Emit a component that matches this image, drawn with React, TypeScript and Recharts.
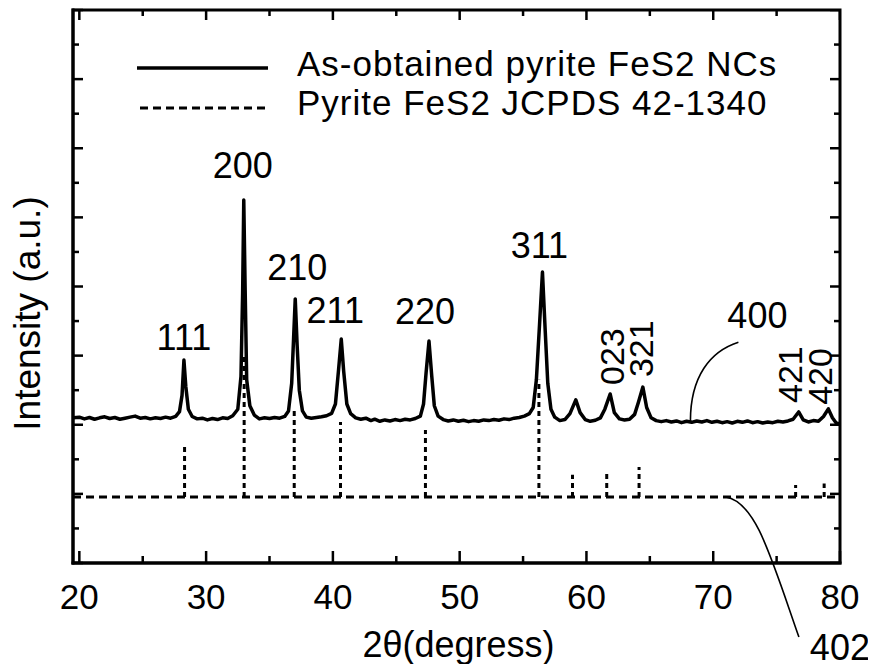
import React from 'react';
import {
  ComposedChart,
  Line,
  Scatter,
  XAxis,
  YAxis,
  ReferenceLine,
  ReferenceDot,
  ReferenceArea,
  Legend,
  Label,
} from 'recharts';

const FONT = '"Liberation Sans", Arial, Helvetica, sans-serif';

// Measured XRD pattern of the as-obtained nanocrystals (2θ in degrees, intensity in a.u.)
const measuredAngle = [
  19.5, 20.0, 20.4, 20.8, 21.2, 21.6, 22.0, 22.4, 22.8, 23.2, 23.6, 24.0, 24.4, 24.8, 25.2, 25.6,
  26.0, 26.4, 26.8, 27.2, 27.6, 27.9, 28.1, 28.25, 28.4, 28.6, 28.9, 29.3, 29.7, 30.1, 30.5, 30.9,
  31.3, 31.7, 32.1, 32.5, 32.75, 32.88, 32.97, 33.08, 33.2, 33.45, 33.8, 34.2, 34.6, 35.0, 35.4,
  35.8, 36.2, 36.5, 36.75, 36.9, 37.03, 37.18, 37.35, 37.6, 37.9, 38.3, 38.7, 39.1, 39.5, 39.9,
  40.2, 40.45, 40.66, 40.85, 41.1, 41.4, 41.8, 42.2, 42.6, 43.0, 43.3, 43.7, 44.1, 44.5, 44.9,
  45.3, 45.7, 46.1, 46.5, 46.9, 47.15, 47.35, 47.58, 47.8, 48.0, 48.3, 48.7, 49.1, 49.5, 49.9,
  50.3, 50.7, 51.1, 51.5, 51.9, 52.3, 52.7, 53.1, 53.5, 53.9, 54.3, 54.7, 55.1, 55.5, 55.8, 56.05,
  56.3, 56.53, 56.75, 56.95, 57.2, 57.5, 57.9, 58.3, 58.7, 59.16, 59.5, 59.9, 60.3, 60.7, 61.1,
  61.45, 61.87, 62.2, 62.6, 63.0, 63.4, 63.8, 64.1, 64.45, 64.75, 65.1, 65.5, 65.9, 66.3, 66.7,
  67.1, 67.5, 67.9, 68.3, 68.7, 69.1, 69.5, 69.9, 70.3, 70.7, 71.1, 71.5, 71.9, 72.3, 72.7, 73.1,
  73.5, 73.9, 74.3, 74.7, 75.1, 75.5, 75.9, 76.3, 76.74, 77.1, 77.5, 77.9, 78.3, 78.7, 79.08,
  79.4, 79.7, 80.0,
];
const measuredIntensity = [
  4.2, 4.22, 4.17, 4.21, 4.16, 4.2, 4.23, 4.18, 4.21, 4.16, 4.19, 4.22, 4.25, 4.19, 4.21, 4.17,
  4.2, 4.18, 4.22, 4.19, 4.24, 4.38, 4.85, 5.87, 5.1, 4.45, 4.24, 4.17, 4.19, 4.14, 4.18, 4.15,
  4.2, 4.18, 4.26, 4.45, 5.4, 7.8, 10.5, 7.9, 5.3, 4.55, 4.28, 4.17, 4.2, 4.18, 4.21,
  4.19, 4.24, 4.4, 5.2, 6.5, 7.64, 6.3, 5.0, 4.4, 4.22, 4.19, 4.21, 4.23, 4.26, 4.33,
  4.6, 5.6, 6.48, 5.55, 4.6, 4.32, 4.2, 4.16, 4.19, 4.12, 4.16, 4.1, 4.14, 4.11, 4.15,
  4.12, 4.16, 4.14, 4.18, 4.25, 4.6, 5.5, 6.42, 5.4, 4.55, 4.25, 4.15, 4.11, 4.14, 4.1,
  4.13, 4.09, 4.12, 4.1, 4.14, 4.12, 4.15, 4.13, 4.17, 4.15, 4.19, 4.21, 4.25, 4.32, 4.5, 5.3,
  6.9, 8.42, 6.7, 5.2, 4.45, 4.22, 4.12, 4.15, 4.32, 4.72, 4.35, 4.15, 4.1, 4.13, 4.2,
  4.45, 4.89, 4.35, 4.17, 4.14, 4.16, 4.3, 4.65, 5.09, 4.5, 4.2, 4.12, 4.09, 4.12, 4.08,
  4.11, 4.06, 4.1, 4.07, 4.11, 4.08, 4.12, 4.07, 4.1, 4.06, 4.09, 4.05, 4.1, 4.07, 4.11, 4.06,
  4.09, 4.05, 4.08, 4.06, 4.1, 4.08, 4.11, 4.16, 4.37, 4.14, 4.08, 4.12, 4.1, 4.24, 4.46,
  4.2, 4.05, 4.02,
];

// Standard pyrite FeS2 stick pattern (JCPDS 42-1340), drawn offset below the measurement
const patternBase = 1.91;
const patternSpan = [19.5, 80];
const patternAngle = [28.3, 33.0, 36.95, 40.6, 47.3, 56.25, 58.9, 61.6, 64.15, 76.5, 78.75];
const patternTop = [3.41, 5.96, 4.51, 4.08, 3.85, 5.3, 2.55, 2.6, 2.78, 2.26, 2.3];

// Miller indices of the indexed reflections
const peakHkl = ['111', '200', '210', '211', '220', '311', '023', '321', '421', '420'];
const peakAngle = [28.25, 32.97, 37.03, 40.66, 47.58, 56.53, 61.87, 64.45, 76.74, 79.08];
const peakIntensity = [5.87, 10.5, 7.64, 6.48, 6.42, 8.42, 4.89, 5.09, 4.37, 4.46];
const peakUpright = [true, true, true, true, true, true, false, false, false, false];
// label placement relative to its peak apex: [dx, lift]
const peakLabelPlacement = [
  [0, 10], [-1, 22], [2, 19], [-6, 16], [-4, 17], [-3, 14], [2, 9], [-2, 10], [-9, 9], [-9, 4],
];

// callouts
const callout400 = { angle: 68.2, intensity: 4.1, text: '400' };
const callout402 = { angle: 71.0, intensity: patternBase, text: '402' };

const xTicks = [20, 25, 30, 35, 40, 45, 50, 55, 60, 65, 70, 75, 80];
const yTicks = [0, 1, 2, 3, 4, 5, 6, 7, 8, 9, 10, 11, 12, 13, 14, 15, 16];
const xDomain = [19.5, 80];
const yDomain = [0, 16];

const seriesNames = ['As-obtained pyrite FeS2 NCs', 'Pyrite FeS2 JCPDS 42-1340'];
const xTitle = '2θ(degress)';
const yTitle = 'Intensity (a.u.)';

const measuredRows = measuredAngle.map((a, i) => ({ angle: a, measured: measuredIntensity[i] }));
const patternRows = patternSpan.map((a) => ({ angle: a, pattern: patternBase }));
const peakRows = peakHkl.map((h, i) => ({
  angle: peakAngle[i],
  apex: peakIntensity[i],
  hkl: h,
  upright: peakUpright[i],
  place: peakLabelPlacement[i],
}));

// inward tick marks along the top and right edges of the box
const topTickRows = xTicks.map((t) => ({ angle: t, edge: yDomain[1], side: 'top', major: t % 10 === 0 }));
const rightTickRows = yTicks.map((t) => ({ angle: xDomain[1], edge: t, side: 'right', major: t % 2 === 0 }));

const CHART_W = 868;
const CHART_H = 656;
const MARGIN = { top: 2, right: 36, bottom: 61, left: 25 };

const INK = '#000';
const FRAME = { stroke: INK, strokeWidth: 3, strokeLinecap: 'square' as const };
const LABEL_SIZE = 36;
const TITLE_SIZE = 37;

const BottomTick = (props: any) => {
  const { x, y, payload } = props;
  const major = payload.value % 10 === 0;
  return (
    <g>
      <line x1={x} x2={x} y1={y} y2={y - (major ? 12 : 7)} stroke={INK} strokeWidth={2.5} />
      {major && (
        <text x={x} y={y + 46} textAnchor="middle" fontSize={35} fontFamily={FONT} fill={INK}>
          {payload.value}
        </text>
      )}
    </g>
  );
};

const LeftTick = (props: any) => {
  const { x, y, payload } = props;
  const major = payload.value % 2 === 0;
  return <line x1={x} x2={x + (major ? 10 : 6)} y1={y} y2={y} stroke={INK} strokeWidth={2.5} />;
};

const EdgeTick = (props: any) => {
  const { cx, cy, payload } = props;
  if (cx == null || cy == null) return null;
  const len = payload.major ? 10 : 6;
  if (payload.side === 'top') {
    return <line x1={cx} x2={cx} y1={cy} y2={cy + len} stroke={INK} strokeWidth={2.5} />;
  }
  return <line x1={cx} x2={cx - len} y1={cy} y2={cy} stroke={INK} strokeWidth={2.5} />;
};

const XTitle = (props: any) => {
  const { viewBox } = props;
  return (
    <text
      x={viewBox.x + viewBox.width / 2 + 2}
      y={viewBox.y + 94}
      textAnchor="middle"
      fontSize={TITLE_SIZE - 1}
      fontFamily={FONT}
      fill={INK}
    >
      {xTitle}
    </text>
  );
};

const YTitle = (props: any) => {
  const { viewBox } = props;
  const cx = viewBox.x - 6;
  const cy = viewBox.y + viewBox.height / 2 + 27;
  return (
    <text
      x={cx}
      y={cy}
      dy="0.35em"
      transform={`rotate(-90, ${cx}, ${cy})`}
      textAnchor="middle"
      fontSize={TITLE_SIZE}
      fontFamily={FONT}
      fill={INK}
    >
      {yTitle}
    </text>
  );
};

const PeakLabel = (props: any) => {
  const { cx, cy, payload } = props;
  if (cx == null || cy == null) return null;
  const [dx, lift] = payload.place;
  const x = cx + dx;
  const y = cy - lift;
  if (payload.upright) {
    return (
      <text x={x} y={y} textAnchor="middle" fontSize={LABEL_SIZE} fontFamily={FONT} fill={INK}>
        {payload.hkl}
      </text>
    );
  }
  return (
    <text
      x={x}
      y={y}
      dy="0.36em"
      transform={`rotate(-90, ${x}, ${y})`}
      textAnchor="start"
      fontSize={LABEL_SIZE - 2}
      fontFamily={FONT}
      fill={INK}
    >
      {payload.hkl}
    </text>
  );
};

const Callout400 = (props: any) => {
  const { cx, cy } = props;
  return (
    <g>
      <path
        d={`M${cx},${cy} C${cx},${cy - 45} ${cx + 20},${cy - 70} ${cx + 48},${cy - 79}`}
        fill="none"
        stroke={INK}
        strokeWidth={1.6}
      />
      <text x={cx + 67} y={cy - 93} textAnchor="middle" fontSize={LABEL_SIZE} fontFamily={FONT} fill={INK}>
        {callout400.text}
      </text>
    </g>
  );
};

const Callout402 = (props: any) => {
  const { cx, cy } = props;
  return (
    <g>
      <path
        d={`M${cx},${cy} C${cx + 30},${cy + 5} ${cx + 45},${cy + 60} ${cx + 73},${cy + 140}`}
        fill="none"
        stroke={INK}
        strokeWidth={1.6}
      />
      <text x={cx + 114} y={cy + 163} textAnchor="middle" fontSize={LABEL_SIZE} fontFamily={FONT} fill={INK}>
        {callout402.text}
      </text>
    </g>
  );
};

const LegendBox = (props: any) => {
  const items = (props.payload || []).filter(
    (p: any) => p.type !== 'none' && seriesNames.includes(p.value)
  );
  return (
    <svg width={720} height={90} style={{ display: 'block', overflow: 'visible' }}>
      {items.map((item: any, i: number) => {
        const y = 20 + i * 40;
        const dash = item.payload?.strokeDasharray;
        return (
          <g key={item.value}>
            <line
              x1={dash ? 3 : 0}
              x2={131}
              y1={y}
              y2={y}
              stroke={INK}
              strokeWidth={dash ? 3 : 3.5}
              strokeDasharray={dash}
            />
            <text
              x={160}
              y={i === 0 ? y + 8 : y + 7}
              fontSize={35}
              letterSpacing={1}
              fontFamily={FONT}
              fill={INK}
            >
              {item.value}
            </text>
          </g>
        );
      })}
    </svg>
  );
};

export default function App() {
  return (
    <div style={{ width: CHART_W, height: CHART_H, fontFamily: FONT }}>
      <ComposedChart width={CHART_W} height={CHART_H} margin={MARGIN}>
        <XAxis
          xAxisId="x"
          type="number"
          dataKey="angle"
          domain={xDomain}
          ticks={xTicks}
          interval={0}
          allowDataOverflow
          tickLine={false}
          tickSize={0}
          tickMargin={0}
          tick={<BottomTick />}
          axisLine={FRAME}
          height={40}
        >
          <Label content={<XTitle />} />
        </XAxis>
        <YAxis
          yAxisId="y"
          type="number"
          domain={yDomain}
          ticks={yTicks}
          interval={0}
          allowDataOverflow
          tickLine={false}
          tickSize={0}
          tickMargin={0}
          tick={<LeftTick />}
          axisLine={FRAME}
          width={40}
        >
          <Label content={<YTitle />} />
        </YAxis>

        {/* the plot box outline */}
        <ReferenceArea
          xAxisId="x"
          yAxisId="y"
          x1={xDomain[0]}
          x2={xDomain[1]}
          y1={yDomain[0]}
          y2={yDomain[1]}
          fill="none"
          fillOpacity={0}
          stroke={INK}
          strokeWidth={3}
          ifOverflow="visible"
        />

        {patternAngle.map((a, i) => (
          <ReferenceLine
            key={`stick-${a}`}
            xAxisId="x"
            yAxisId="y"
            segment={[
              { x: a, y: patternBase },
              { x: a, y: patternTop[i] },
            ]}
            stroke={INK}
            strokeWidth={3}
            strokeDasharray="5 4"
          />
        ))}

        <Scatter
          xAxisId="x"
          yAxisId="y"
          data={topTickRows}
          dataKey="edge"
          name="top ticks"
          legendType="none"
          shape={<EdgeTick />}
          isAnimationActive={false}
        />
        <Scatter
          xAxisId="x"
          yAxisId="y"
          data={rightTickRows}
          dataKey="edge"
          name="right ticks"
          legendType="none"
          shape={<EdgeTick />}
          isAnimationActive={false}
        />

        <Line
          xAxisId="x"
          yAxisId="y"
          data={measuredRows}
          dataKey="measured"
          name={seriesNames[0]}
          type="linear"
          stroke={INK}
          strokeWidth={3.5}
          strokeLinejoin="round"
          dot={false}
          activeDot={false}
          isAnimationActive={false}
        />
        <Line
          xAxisId="x"
          yAxisId="y"
          data={patternRows}
          dataKey="pattern"
          name={seriesNames[1]}
          type="linear"
          stroke={INK}
          strokeWidth={3}
          strokeDasharray="8 5"
          dot={false}
          activeDot={false}
          isAnimationActive={false}
        />
        <Scatter
          xAxisId="x"
          yAxisId="y"
          data={peakRows}
          dataKey="apex"
          name="hkl"
          legendType="none"
          shape={<PeakLabel />}
          isAnimationActive={false}
        />

        <ReferenceDot
          xAxisId="x"
          yAxisId="y"
          x={callout400.angle}
          y={callout400.intensity}
          ifOverflow="visible"
          shape={<Callout400 />}
        />
        <ReferenceDot
          xAxisId="x"
          yAxisId="y"
          x={callout402.angle}
          y={callout402.intensity}
          ifOverflow="visible"
          shape={<Callout402 />}
        />

        <Legend
          layout="horizontal"
          verticalAlign="middle"
          align="center"
          wrapperStyle={{ left: 129, top: 40, width: 720, height: 90 }}
          content={<LegendBox />}
        />
      </ComposedChart>
    </div>
  );
}
